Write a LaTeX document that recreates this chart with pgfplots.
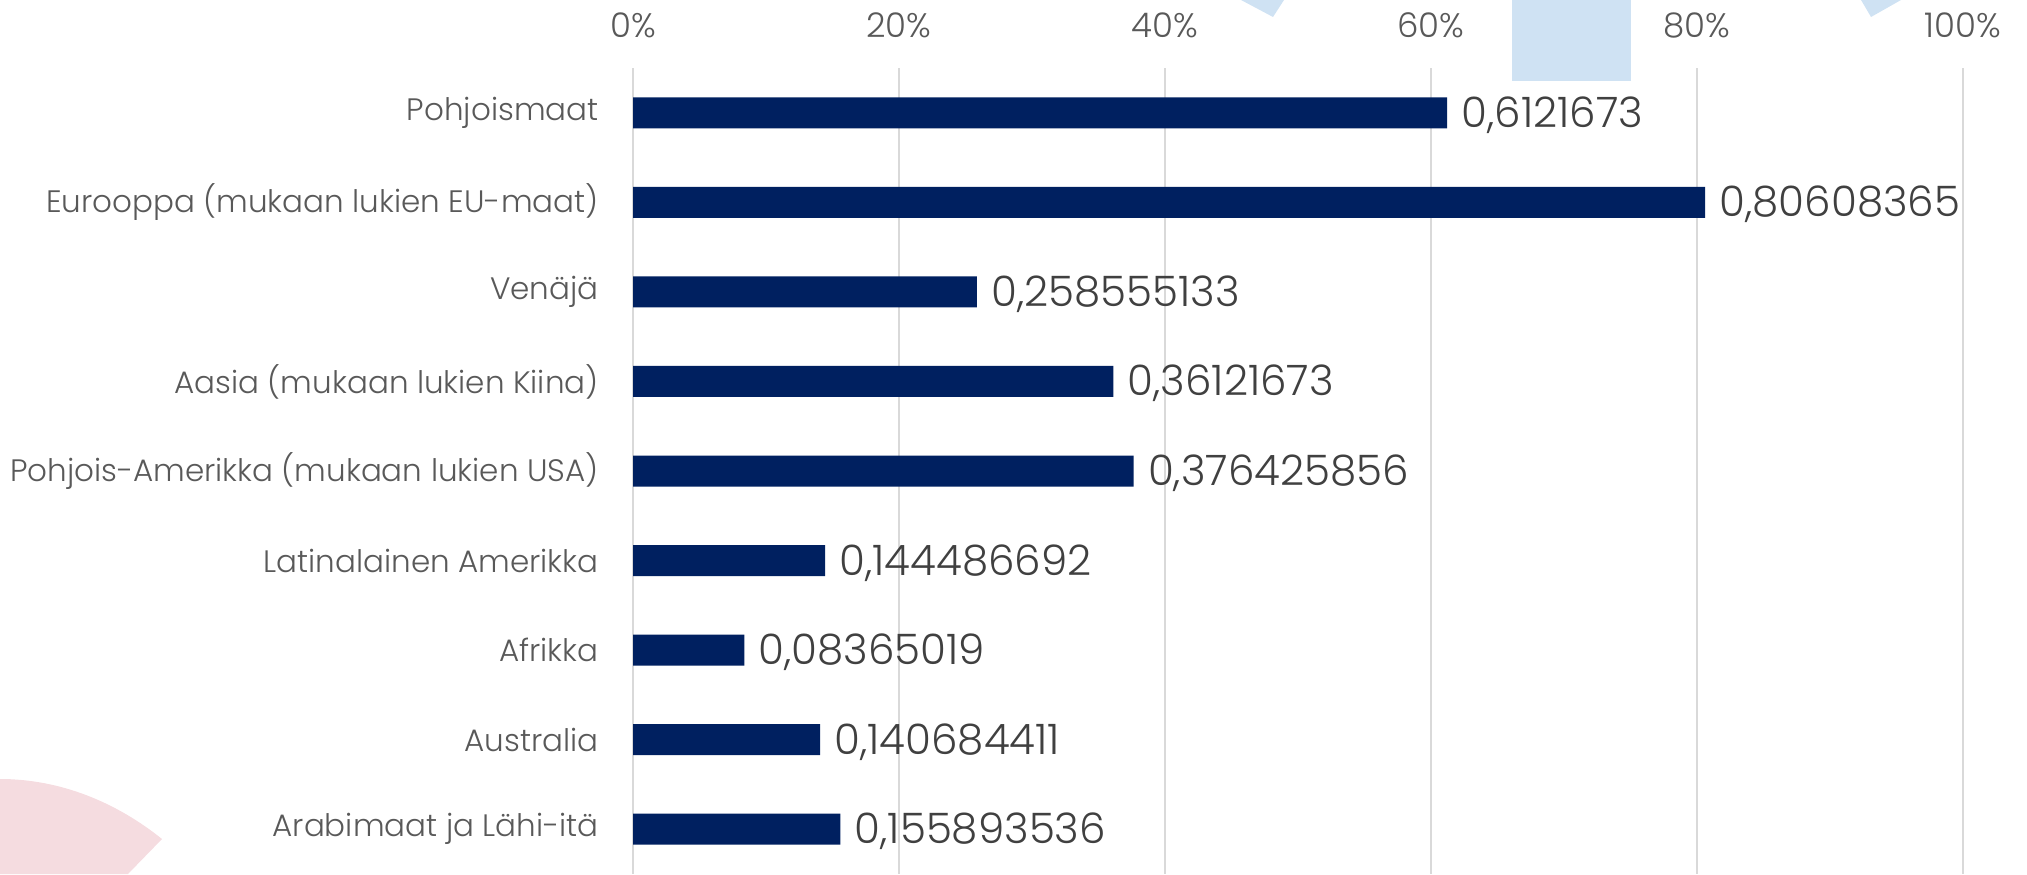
\documentclass[border=0pt]{standalone}
\usepackage{fontspec}
\setmainfont{Poppins}[UprightFont=* Light, Numbers=Monospaced]
\usepackage{pgfplots}
\pgfplotsset{compat=1.18}
\usepackage{pgfplotstable}
\definecolor{barc}{HTML}{002060}
\definecolor{txt}{HTML}{595959}
\definecolor{valtxt}{HTML}{404040}
\definecolor{gridc}{HTML}{D9D9D9}
\definecolor{lblue}{HTML}{CFE2F3}
\definecolor{lpink}{HTML}{F5DCE0}

\pgfplotstableread{
idx val lab
0 0.6121673 0,6121673
1 0.80608365 0,80608365
2 0.258555133 0,258555133
3 0.36121673 0,36121673
4 0.376425856 0,376425856
5 0.144486692 0,144486692
6 0.08365019 0,08365019
7 0.140684411 0,140684411
8 0.155893536 0,155893536
}\datatable

\begin{document}
\begin{tikzpicture}
\path[use as bounding box] (0pt,0pt) rectangle (1013.5pt,437pt);
% background decorations
\fill[lblue] (756pt,437pt) rectangle (815.5pt,396.5pt);
\fill[lblue] (620.5pt,437pt) -- (642pt,437pt) -- (636.5pt,428.5pt) -- cycle;
\fill[lblue] (930.5pt,437pt) -- (950.5pt,437pt) -- (935.5pt,428.5pt) -- cycle;
\fill[lpink] (0pt,47.5pt) .. controls (30pt,47.5pt) and (58pt,36pt) .. (81pt,17.5pt) -- (64pt,0pt) -- (0pt,0pt) -- cycle;
\begin{axis}[
  at={(316.5pt,0pt)}, anchor=south west,
  scale only axis, width=665pt, height=403pt,
  xbar, bar width=15.5pt,
  xmin=0, xmax=1, ymin=-0.5, ymax=8.5, y dir=reverse,
  ytick={0,...,8},
  yticklabels={Pohjoismaat,Eurooppa (mukaan lukien EU-maat),Venäjä,Aasia (mukaan lukien Kiina),Pohjois-Amerikka (mukaan lukien USA),Latinalainen Amerikka,Afrikka,Australia,Arabimaat ja Lähi-itä},
  xtick={0,0.2,0.4,0.6,0.8,1},
  xticklabels={0\%,20\%,40\%,60\%,80\%,100\%},
  xticklabel pos=upper,
  xmajorgrids, grid style={draw=gridc, line width=0.9pt},
  axis line style={draw=none},
  major tick length=0pt,
  xticklabel style={anchor=base, inner sep=0pt, yshift=15.5pt, font=\fontsize{17}{17}\selectfont, text=txt},
  yticklabel style={anchor=east, inner sep=0pt, xshift=-17pt, font=\fontsize{15.5}{15.5}\selectfont, text=txt},
  point meta=explicit symbolic,
  nodes near coords={\pgfplotspointmeta},
  nodes near coords style={anchor=base west, inner sep=0pt, xshift=7pt, yshift=-7.25pt, font=\fontsize{21}{21}\selectfont, text=valtxt},
  clip=false,
]
\addplot[fill=barc, draw=none] table[x=val, y=idx, meta=lab] {\datatable};
\end{axis}
\end{tikzpicture}
\end{document}
